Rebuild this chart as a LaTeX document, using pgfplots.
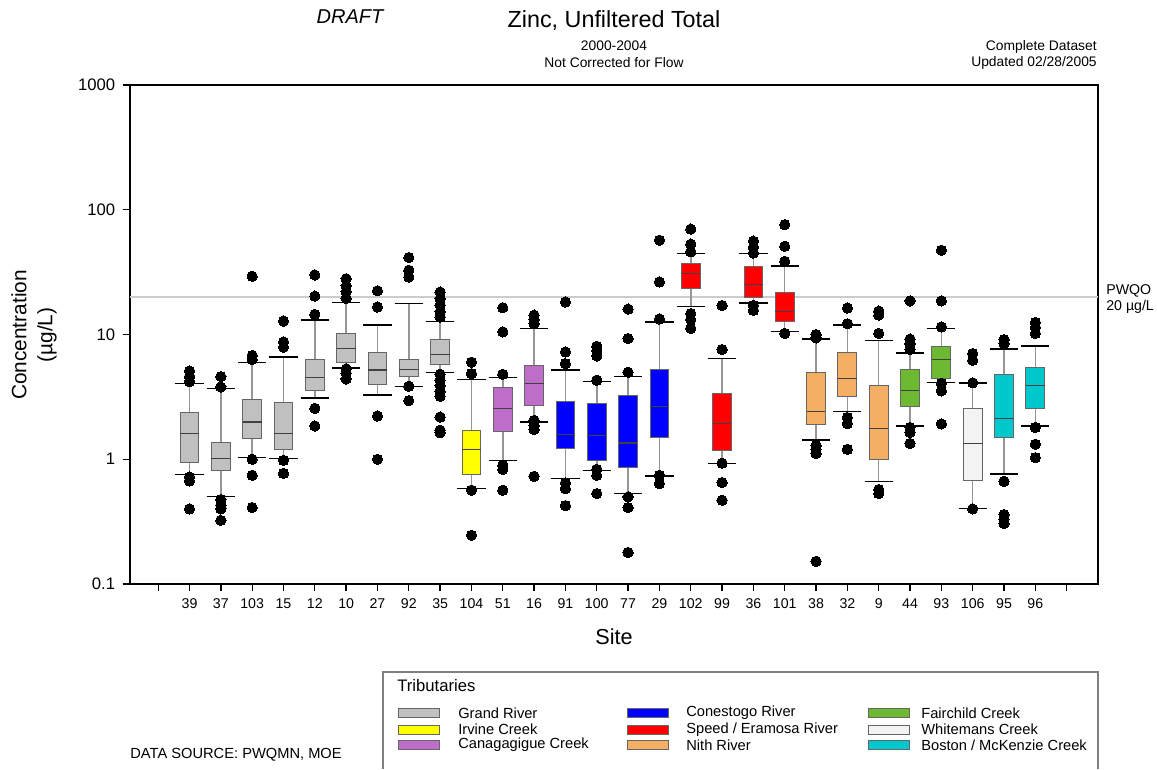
\documentclass[border=0pt]{standalone}
\usepackage{pgfplots}
\pgfplotsset{compat=1.18}
\usepgfplotslibrary{statistics}
\usepackage{fontspec}
\setmainfont{Liberation Sans}
\definecolor{cGrand}{RGB}{192,192,192}
\definecolor{cIrvine}{RGB}{255,255,0}
\definecolor{cCanag}{RGB}{190,110,200}
\definecolor{cCones}{RGB}{0,0,255}
\definecolor{cSpeed}{RGB}{255,0,0}
\definecolor{cNith}{RGB}{245,175,100}
\definecolor{cFair}{RGB}{110,185,50}
\definecolor{cWhite}{RGB}{243,243,243}
\definecolor{cBoston}{RGB}{0,200,205}
\definecolor{wline}{RGB}{150,150,150}
\pgfplotsset{
  boxplot/draw/lower whisker/.code={%
    \draw[wline, line width=0.9pt]
      (boxplot box cs:\pgfplotsboxplotvalue{lower quartile},0.5) --
      (boxplot box cs:\pgfplotsboxplotvalue{lower whisker},0.5);
    \draw[black, line width=0.8pt]
      (boxplot whisker cs:\pgfplotsboxplotvalue{lower whisker},0) --
      (boxplot whisker cs:\pgfplotsboxplotvalue{lower whisker},1);
  },
  boxplot/draw/upper whisker/.code={%
    \draw[wline, line width=0.9pt]
      (boxplot box cs:\pgfplotsboxplotvalue{upper quartile},0.5) --
      (boxplot box cs:\pgfplotsboxplotvalue{upper whisker},0.5);
    \draw[black, line width=0.8pt]
      (boxplot whisker cs:\pgfplotsboxplotvalue{upper whisker},0) --
      (boxplot whisker cs:\pgfplotsboxplotvalue{upper whisker},1);
  },
  bp/.style={boxplot/draw direction=y, boxplot/box extend=0.6, boxplot/whisker extend=0.9,
    mark=*, mark size=3.1pt, mark options={black, fill=black, line width=0pt},
    boxplot/every median/.style={draw=black!75, line width=0.7pt},
    boxplot/every box/.style={draw=black!60, line width=0.6pt, fill=#1}},
}
\newcommand{\BP}[8]{% color, pos, lw, q1, med, q3, uw, outliers
  \addplot[bp=#1, boxplot prepared={draw position=#2, lower whisker=#3, lower quartile=#4, median=#5, upper quartile=#6, upper whisker=#7}]
    table[row sep=\\, y index=0] {#8};
}
\newcommand{\LegItem}[5]{% color, swatch x, text x, y, text
  \draw[black!60, line width=0.5pt, fill=#1] (#2pt,-#4pt+2.8pt) rectangle (#2pt+24.6pt,-#4pt-2.8pt);
  \node[font=\fontsize{8.8}{10}\selectfont, anchor=west, inner sep=0pt] at (#3pt,-#4pt) {#5};
}
\begin{document}
\begin{tikzpicture}
\path (0,0) rectangle (694.2pt,-461.4pt);
\begin{axis}[
  at={(78pt,-51pt)}, anchor=north west,
  width=580.8pt, height=299.4pt, scale only axis,
  ymode=log, ymin=0.1, ymax=1000,
  xmin=-0.9, xmax=30,
  ytick={0.1,1,10,100,1000}, yticklabels={0.1,1,10,100,1000},
  yminorticks=false,
  xtick={0,...,29},
  xticklabels={,39,37,103,15,12,10,27,92,35,104,51,16,91,100,77,29,102,99,36,101,38,32,9,44,93,106,95,96,},
  tick align=outside, xtick pos=bottom, ytick pos=left,
  major tick length=4.4pt,
  tick style={black, line width=0.8pt},
  axis line style={black, line width=0.9pt},
  yticklabel style={font=\fontsize{10}{12}\selectfont, xshift=-1pt},
  xticklabel style={font=\fontsize{8.5}{10}\selectfont, yshift=-1pt},
]
\addplot[gray!40, line width=1.1pt, forget plot] coordinates {(-0.9,20) (30,20)};
\BP{cGrand}{1}{0.754}{0.94}{1.62}{2.37}{4.04}{data\\5.1\\4.6\\4.2\\0.72\\0.67\\0.40\\}
\BP{cGrand}{2}{0.505}{0.806}{1.01}{1.37}{3.71}{data\\4.6\\3.8\\0.475\\0.428\\0.40\\0.324\\}
\BP{cGrand}{3}{1.03}{1.47}{1.99}{2.99}{6.0}{data\\29.3\\6.8\\6.3\\1.0\\0.744\\0.41\\}
\BP{cGrand}{4}{1.01}{1.19}{1.62}{2.85}{6.6}{data\\12.8\\8.7\\7.9\\0.98\\0.77\\}
\BP{cGrand}{5}{3.10}{3.55}{4.54}{6.33}{13.1}{data\\30\\20.3\\14.5\\2.56\\1.85\\}
\BP{cGrand}{6}{5.39}{5.96}{7.71}{10.2}{18.1}{data\\28\\24.5\\22\\19.5\\5.3\\4.9\\4.4\\}
\BP{cGrand}{7}{3.28}{3.97}{5.2}{7.11}{11.9}{data\\22.4\\16.6\\2.22\\1.0\\}
\BP{cGrand}{8}{3.85}{4.6}{5.24}{6.33}{17.8}{data\\41.4\\32.7\\28.9\\3.85\\2.95\\}
\BP{cGrand}{9}{4.95}{5.77}{6.95}{9.1}{12.7}{data\\21.9\\19.4\\17.2\\15.2\\13.8\\4.8\\4.3\\3.9\\3.5\\3.2\\2.18\\1.71\\1.63\\}
\BP{cIrvine}{10}{0.586}{0.758}{1.20}{1.70}{4.35}{data\\6.0\\4.86\\0.565\\0.246\\}
\BP{cCanag}{11}{0.976}{1.67}{2.55}{3.76}{4.52}{data\\16.4\\10.5\\4.8\\0.895\\0.83\\0.565\\}
\BP{cCanag}{12}{1.99}{2.69}{4.07}{5.6}{11.2}{data\\14.3\\13.2\\12.2\\2.05\\1.87\\1.73\\0.73\\}
\BP{cCones}{13}{0.70}{1.21}{1.59}{2.92}{5.2}{data\\18.2\\7.25\\5.85\\0.646\\0.582\\0.425\\}
\BP{cCones}{14}{0.816}{0.98}{1.54}{2.80}{4.2}{data\\8.05\\7.38\\6.73\\4.3\\0.83\\0.744\\0.531\\}
\BP{cCones}{15}{0.533}{0.853}{1.35}{3.22}{4.6}{data\\16.0\\9.28\\4.98\\0.499\\0.41\\0.179\\}
\BP{cCones}{16}{0.735}{1.49}{2.64}{5.2}{12.6}{data\\57\\26.4\\13.3\\0.744\\0.639\\}
\BP{cSpeed}{17}{16.8}{23.5}{30.8}{36.8}{44.5}{data\\70\\53\\46\\14.7\\13.2\\11.2\\}
\BP{cSpeed}{18}{0.93}{1.18}{1.92}{3.36}{6.42}{data\\17.1\\7.57\\0.93\\0.65\\0.469\\}
\BP{cSpeed}{19}{17.9}{19.9}{25.3}{35.1}{44.5}{data\\56\\50\\45\\17.1\\15.6\\}
\BP{cSpeed}{20}{10.6}{12.8}{15.4}{21.8}{35.5}{data\\76\\51\\38.6\\10.2\\}
\BP{cNith}{21}{1.43}{1.90}{2.42}{4.92}{9.22}{data\\10.0\\9.4\\1.29\\1.2\\1.11\\0.152\\}
\BP{cNith}{22}{2.42}{3.2}{4.43}{7.11}{11.9}{data\\16.3\\12.2\\2.16\\1.93\\1.2\\}
\BP{cNith}{23}{0.662}{0.994}{1.76}{3.9}{9.0}{data\\15.4\\14.3\\10.2\\0.572\\0.531\\}
\BP{cFair}{24}{1.85}{2.64}{3.57}{5.2}{7.11}{data\\18.6\\9.2\\8.4\\7.6\\1.8\\1.64\\1.34\\}
\BP{cFair}{25}{4.12}{4.48}{6.3}{7.95}{11.2}{data\\47.4\\18.6\\11.5\\4.05\\3.53\\1.92\\}
\BP{cWhite}{26}{0.403}{0.679}{1.33}{2.53}{4.09}{data\\7.04\\6.22\\4.1\\0.40\\}
\BP{cBoston}{27}{0.763}{1.49}{2.13}{4.78}{7.66}{data\\9.1\\8.46\\0.666\\0.36\\0.33\\0.305\\}
\BP{cBoston}{28}{1.85}{2.55}{3.92}{5.46}{8.1}{data\\12.5\\11.4\\10.2\\1.8\\1.32\\1.03\\}
\end{axis}
% titles
\node[font=\fontsize{12}{14}\selectfont\itshape] at (210pt,-10.2pt) {DRAFT};
\node[font=\fontsize{14}{16}\selectfont] at (368.4pt,-12.6pt) {Zinc, Unfiltered Total};
\node[font=\fontsize{8.3}{10}\selectfont] at (368.4pt,-27.6pt) {2000-2004};
\node[font=\fontsize{8.3}{10}\selectfont] at (368.4pt,-37.8pt) {Not Corrected for Flow};
\node[font=\fontsize{8.3}{10}\selectfont, anchor=east, inner sep=0pt] at (658.2pt,-28.2pt) {Complete Dataset};
\node[font=\fontsize{8.3}{10}\selectfont, anchor=east, inner sep=0pt] at (658.2pt,-37.8pt) {Updated 02/28/2005};
\node[font=\fontsize{12.5}{14}\selectfont, rotate=90] at (11.4pt,-201pt) {Concentration};
\node[font=\fontsize{12.5}{14}\selectfont, rotate=90] at (28.2pt,-201pt) {(µg/L)};
\node[font=\fontsize{13}{15}\selectfont] at (368.4pt,-382.2pt) {Site};
\node[font=\fontsize{8.5}{10}\selectfont, anchor=west, inner sep=0pt] at (663.6pt,-174.6pt) {PWQO};
\node[font=\fontsize{8.5}{10}\selectfont, anchor=west, inner sep=0pt] at (663.6pt,-184.2pt) {20 µg/L};
\node[font=\fontsize{8.8}{10}\selectfont, anchor=east, inner sep=0pt] at (205.2pt,-453pt) {DATA SOURCE: PWQMN, MOE};
% legend
\draw[black!50, line width=0.9pt] (229.8pt,-461.4pt) -- (229.8pt,-403.2pt) -- (658.8pt,-403.2pt) -- (658.8pt,-461.4pt);
\node[font=\fontsize{10}{12}\selectfont, anchor=west, inner sep=0pt] at (238.2pt,-411.6pt) {Tributaries};
\LegItem{cGrand}{238.8}{274.8}{427.8}{Grand River}
\LegItem{cIrvine}{238.8}{274.8}{437.8}{Irvine Creek}
\LegItem{cCanag}{238.8}{274.8}{447}{Canagagigue Creek}
\LegItem{cCones}{376.2}{411.6}{427.8}{Conestogo River}
\LegItem{cSpeed}{376.2}{411.6}{437.8}{Speed / Eramosa River}
\LegItem{cNith}{376.2}{411.6}{447}{Nith River}
\LegItem{cFair}{520.8}{552.6}{427.8}{Fairchild Creek}
\LegItem{cWhite}{520.8}{552.6}{437.8}{Whitemans Creek}
\LegItem{cBoston}{520.8}{552.6}{447}{Boston / McKenzie Creek}
\end{tikzpicture}
\end{document}
